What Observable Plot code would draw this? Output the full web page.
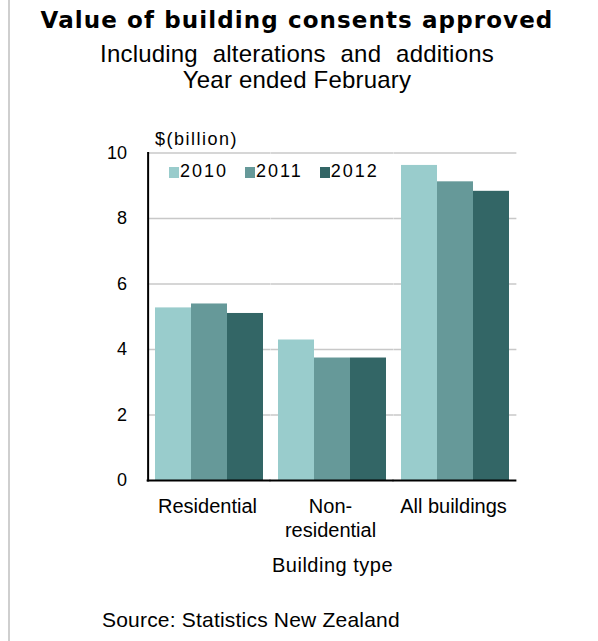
<!DOCTYPE html>
<html>
<head>
<meta charset="utf-8">
<script src="https://cdn.jsdelivr.net/npm/d3@7"></script>
<script src="https://cdn.jsdelivr.net/npm/@observablehq/plot@0.6"></script>
<style>
  html, body { margin: 0; padding: 0; background: #fff; }
  #wrap { position: relative; width: 598px; height: 641px; overflow: hidden; font-family: "Liberation Sans", Arial, sans-serif; color: #000; }
  .t { position: absolute; white-space: nowrap; line-height: 1; }
  #border { position: absolute; left: 8px; top: 0; width: 2px; height: 641px; background: #cfcfcf; }
  #title { left: 0; width: 594px; text-align: center; top: 8.8px; font-family: "DejaVu Sans", Verdana, sans-serif; font-weight: bold; font-size: 23px; letter-spacing: 1.1px; }
  #sub1 { left: 0; width: 594px; text-align: center; top: 41.5px; font-size: 24px; word-spacing: 8px; letter-spacing: 0.2px; }
  #sub2 { left: 0; width: 594px; text-align: center; top: 67.7px; font-size: 24px; letter-spacing: 0.2px; }
  #ylab { left: 155px; top: 129.7px; font-size: 18px; letter-spacing: 1.5px; }
  #xlab { left: 148px; width: 369px; text-align: center; top: 554.7px; font-size: 20px; letter-spacing: 0.5px; }
  #source { left: 102px; top: 608.8px; font-size: 21px; letter-spacing: 0.2px; }
  #legend { position: absolute; left: 169px; top: 162px; display: flex; font-size: 18px; letter-spacing: 2px; line-height: 1; }
  #legend .item { display: flex; align-items: center; margin-right: 17px; }
  #legend .sw { width: 10px; height: 11px; margin-right: 1px; margin-top: 2px; }
  #chart { position: absolute; left: 0; top: 100px; }
</style>
</head>
<body>
<div id="wrap">
  <div id="border"></div>
  <div class="t" id="title"></div>
  <div class="t" id="sub1"></div>
  <div class="t" id="sub2"></div>
  <div class="t" id="ylab"></div>
  <div id="chart"></div>
  <div id="legend"></div>
  <div class="t" id="xlab"></div>
  <div class="t" id="source"></div>
</div>
<script>
// ---- data ----
const types = ["Residential", "Non-residential", "All buildings"];
const typeLabels = ["Residential", "Non-\nresidential", "All buildings"];
const years = ["2010", "2011", "2012"];
const residential = [5.27, 5.39, 5.10];
const nonResidential = [4.29, 3.74, 3.74];
const allBuildings = [9.62, 9.12, 8.83];
const yTicks = [0, 2, 4, 6, 8, 10];
const gridTicks = [2, 4, 6, 8, 10];
const colors = ["#99cccc", "#669999", "#336666"];

const titleText = "Value of building consents approved";
const subtitle1 = "Including alterations and additions";
const subtitle2 = "Year ended February";
const yLabel = "$(billion)";
const xLabel = "Building type";
const sourceText = "Source: Statistics New Zealand";

// ---- build table ----
const seriesByType = [residential, nonResidential, allBuildings];
const rows = [];
types.forEach((t, i) => years.forEach((y, j) => rows.push({type: t, year: y, value: seriesByType[i][j]})));
const labelOf = new Map(types.map((t, i) => [t, typeLabels[i]]));

document.getElementById("title").textContent = titleText;
document.getElementById("sub1").textContent = subtitle1;
document.getElementById("sub2").textContent = subtitle2;
document.getElementById("ylab").textContent = yLabel;
document.getElementById("xlab").textContent = xLabel;
document.getElementById("source").textContent = sourceText;

const font = '"Liberation Sans", Arial, sans-serif';

// layout
const W = 598, mL = 148, mR = 81;
const padIn = 0.12, padOut = 0.06;
const step = (W - mL - mR) / (types.length - padIn + 2 * padOut);
const halfGap = padOut * step; // half the gap between facet groups (= outer padding)

const chart = Plot.plot({
  width: W,
  height: 450,
  marginLeft: mL,
  marginRight: mR,
  marginTop: 52.5,
  marginBottom: 70,
  style: {fontFamily: font, background: "transparent", overflow: "visible"},
  fx: {domain: types, paddingInner: padIn, paddingOuter: padOut, axis: null},
  x: {domain: years, padding: 0, axis: null},
  y: {domain: [0, 10], axis: null},
  color: {domain: years, range: colors},
  marks: [
    Plot.ruleY(gridTicks, {stroke: "#c8c8c8", strokeWidth: 1.5, insetLeft: -halfGap, insetRight: -halfGap}),
    Plot.barY(rows, {fx: "type", x: "year", y: "value", fill: "year"}),
    Plot.ruleY([0], {stroke: "#000", strokeWidth: 2, insetLeft: -halfGap - 1, insetRight: -halfGap}),
    Plot.frame({fx: () => types[0], anchor: "left", stroke: "#000", strokeWidth: 2, dx: -halfGap}),
    Plot.text(yTicks, {fx: () => types[0], y: d => d, frameAnchor: "left", textAnchor: "end", dx: -21 - halfGap, fontSize: 18, fill: "#000"}),
    Plot.text(types, {fx: d => d, frameAnchor: "bottom", lineAnchor: "top", dy: 15, dx: -2, text: d => labelOf.get(d), fontSize: 20, lineHeight: 1.2, fill: "#000", letterSpacing: "0.8px"})
  ]
});
document.getElementById("chart").appendChild(chart);

// legend from the color scale
const color = chart.scale("color");
const legend = document.getElementById("legend");
color.domain.forEach((d, i) => {
  const item = document.createElement("div");
  item.className = "item";
  const sw = document.createElement("div");
  sw.className = "sw";
  sw.style.background = color.range[i];
  const lab = document.createElement("span");
  lab.textContent = d;
  item.appendChild(sw);
  item.appendChild(lab);
  legend.appendChild(item);
});
</script>
</body>
</html>
